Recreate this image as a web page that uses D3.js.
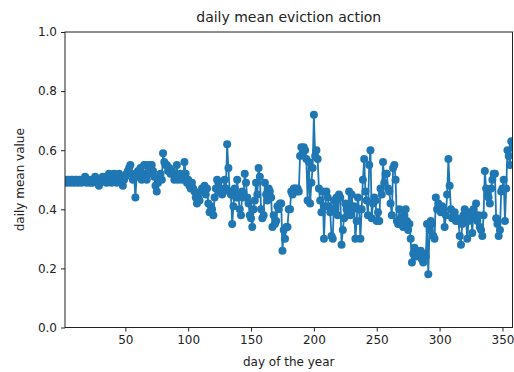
<!DOCTYPE html>
<html>
<head>
<meta charset="utf-8">
<script src="https://cdn.jsdelivr.net/npm/d3@7"></script>
<style>
  body { margin: 0; background: #fff; }
  text { font-family: "DejaVu Sans", sans-serif; fill: #222; }
  .tick line { stroke: #222; }
  .domain { display: none; }
</style>
</head>
<body>
<svg width="514" height="372"></svg>
<script>
'use strict';

// day-of-year range covered by the series
const firstDay = 2;
const lastDay = 358;

// mean eviction action per day (days 2..358)
const dailyMean = [
  0.50,0.49,0.50,0.50,0.49,0.50,0.50,0.49,0.50,0.50, // 2-11
  0.49,0.50,0.50,0.49,0.50,0.50,0.51,0.49,0.50,0.50, // 12-21
  0.49,0.50,0.49,0.50,0.51,0.50,0.49,0.48,0.49,0.50, // 22-31
  0.51,0.50,0.51,0.49,0.50,0.52,0.51,0.49,0.50,0.52, // 32-41
  0.50,0.49,0.51,0.52,0.50,0.49,0.48,0.50,0.51,0.52, // 42-51
  0.53,0.54,0.55,0.52,0.50,0.51,0.44,0.51,0.53,0.52, // 52-61
  0.54,0.50,0.52,0.55,0.55,0.50,0.52,0.55,0.54,0.55, // 62-71
  0.53,0.51,0.48,0.46,0.49,0.50,0.52,0.50,0.59,0.56, // 72-81
  0.55,0.55,0.53,0.54,0.52,0.53,0.52,0.50,0.51,0.55, // 82-91
  0.50,0.51,0.52,0.50,0.51,0.56,0.52,0.49,0.50,0.48, // 92-101
  0.47,0.49,0.47,0.46,0.44,0.42,0.44,0.43,0.46,0.47, // 102-111
  0.47,0.48,0.45,0.47,0.42,0.39,0.41,0.40,0.38,0.44, // 112-121
  0.47,0.50,0.49,0.46,0.47,0.45,0.46,0.50,0.47,0.62, // 122-131
  0.54,0.46,0.45,0.35,0.41,0.47,0.44,0.50,0.44,0.40, // 132-141
  0.38,0.46,0.44,0.52,0.49,0.44,0.42,0.38,0.37,0.34, // 142-151
  0.40,0.43,0.49,0.45,0.54,0.51,0.40,0.37,0.38,0.49, // 152-161
  0.45,0.43,0.47,0.46,0.44,0.34,0.38,0.35,0.36,0.41, // 162-171
  0.40,0.42,0.42,0.26,0.33,0.30,0.34,0.34,0.40,0.40, // 172-181
  0.46,0.45,0.47,0.47,0.46,0.47,0.46,0.58,0.61,0.59, // 182-191
  0.61,0.60,0.57,0.43,0.56,0.42,0.49,0.54,0.72,0.58, // 192-201
  0.60,0.57,0.47,0.43,0.39,0.46,0.30,0.41,0.46,0.44, // 202-211
  0.41,0.39,0.31,0.30,0.43,0.40,0.44,0.38,0.45,0.44, // 212-221
  0.28,0.33,0.37,0.42,0.40,0.38,0.46,0.38,0.45,0.40, // 222-231
  0.41,0.30,0.36,0.44,0.40,0.30,0.40,0.50,0.57,0.46, // 232-241
  0.43,0.38,0.55,0.60,0.37,0.42,0.44,0.43,0.36,0.39, // 242-251
  0.36,0.47,0.45,0.56,0.49,0.52,0.52,0.47,0.46,0.42, // 252-261
  0.38,0.54,0.55,0.50,0.36,0.35,0.40,0.37,0.36,0.34, // 262-271
  0.38,0.40,0.36,0.33,0.35,0.30,0.22,0.25,0.27,0.24, // 272-281
  0.26,0.25,0.24,0.26,0.23,0.22,0.25,0.24,0.35,0.18, // 282-291
  0.33,0.36,0.35,0.31,0.30,0.44,0.40,0.42,0.41,0.39, // 292-301
  0.41,0.40,0.34,0.38,0.45,0.57,0.48,0.40,0.37,0.38, // 302-311
  0.39,0.36,0.37,0.36,0.31,0.28,0.35,0.38,0.40,0.37, // 312-321
  0.30,0.36,0.39,0.38,0.32,0.40,0.37,0.42,0.36,0.38, // 322-331
  0.34,0.33,0.31,0.38,0.53,0.47,0.45,0.44,0.42,0.47, // 332-341
  0.50,0.52,0.52,0.37,0.35,0.31,0.33,0.46,0.47,0.50, // 342-351
  0.36,0.47,0.60,0.58,0.55,0.63,0.61                 // 352-358
];

const xTicks = [50, 100, 150, 200, 250, 300, 350];
const yTicks = [0.0, 0.2, 0.4, 0.6, 0.8, 1.0];

const svg = d3.select('svg');
const width = +svg.attr('width');
const height = +svg.attr('height');
const margin = {top: 32, right: 1.5, bottom: 372 - 327.5, left: 65};
const color = '#1f77b4';

const data = dailyMean.map((v, i) => ({day: firstDay + i, value: v}));

const x = d3.scaleLinear()
  .domain([firstDay, lastDay])
  .range([margin.left, width - margin.right]);

const y = d3.scaleLinear()
  .domain([0, 1])
  .range([height - margin.bottom, margin.top]);

// clip so markers at the edges get cut like matplotlib does
svg.append('defs').append('clipPath').attr('id', 'plot-area')
  .append('rect')
  .attr('x', margin.left)
  .attr('y', margin.top)
  .attr('width', width - margin.left - margin.right)
  .attr('height', height - margin.top - margin.bottom);

const plot = svg.append('g').attr('clip-path', 'url(#plot-area)');

const line = d3.line()
  .x(d => x(d.day))
  .y(d => y(d.value));

plot.append('path')
  .datum(data)
  .attr('d', line)
  .attr('fill', 'none')
  .attr('stroke', color)
  .attr('stroke-width', 1.8)
  .attr('stroke-linejoin', 'round');

plot.selectAll('circle')
  .data(data).enter().append('circle')
  .attr('cx', d => x(d.day))
  .attr('cy', d => y(d.value))
  .attr('r', 4)
  .attr('fill', color);

/** axes */
const xAxis = svg.append('g')
  .attr('transform', `translate(0, ${height - margin.bottom})`)
  .call(d3.axisBottom(x).tickValues(xTicks).tickSize(4).tickPadding(4));
xAxis.selectAll('text').style('font-size', '12px');

const yAxis = svg.append('g')
  .attr('transform', `translate(${margin.left}, 0)`)
  .call(d3.axisLeft(y).tickValues(yTicks).tickFormat(d3.format('.1f')).tickSize(4).tickPadding(4));
yAxis.selectAll('text').style('font-size', '12px');

// frame (spines)
svg.append('rect')
  .attr('x', margin.left)
  .attr('y', margin.top)
  .attr('width', width - margin.left - margin.right)
  .attr('height', height - margin.top - margin.bottom)
  .attr('fill', 'none')
  .attr('stroke', '#222')
  .attr('stroke-width', 1);

/** labels */
svg.append('text')
  .attr('x', (margin.left + width - margin.right) / 2)
  .attr('y', 22)
  .attr('text-anchor', 'middle')
  .style('font-size', '14px')
  .text('daily mean eviction action');

svg.append('text')
  .attr('x', (margin.left + width - margin.right) / 2)
  .attr('y', 366)
  .attr('text-anchor', 'middle')
  .style('font-size', '12px')
  .text('day of the year');

svg.append('text')
  .attr('transform', `translate(24, ${(margin.top + height - margin.bottom) / 2}) rotate(-90)`)
  .attr('text-anchor', 'middle')
  .style('font-size', '12px')
  .text('daily mean value');
</script>
</body>
</html>
